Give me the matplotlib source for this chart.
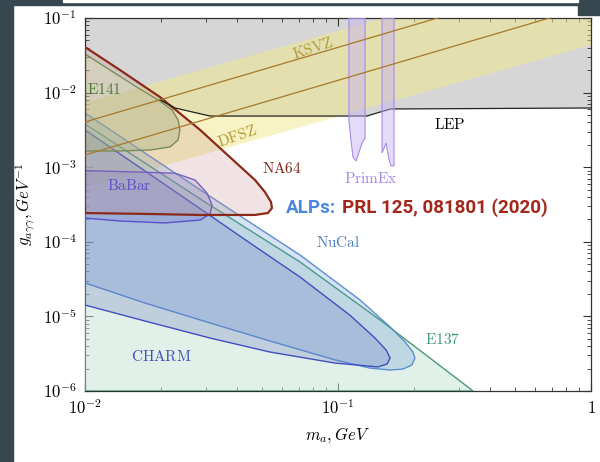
import matplotlib
matplotlib.use("Agg")
import matplotlib.pyplot as plt
import matplotlib.ticker as ticker
from matplotlib.colors import to_rgba
from matplotlib.patches import Rectangle
import numpy as np

plt.rcParams['mathtext.fontset'] = 'cm'

# --- datos (m_a en GeV, g en GeV^-1) ---
lep_m = [0.01, 0.0198, 0.0227, 0.0312, 0.130, 0.161, 1.0]
lep_g = [0.0329, 0.00796, 0.00622, 0.00485, 0.00485, 0.00603, 0.00622]

band_m = [0.01, 1.0]
band_lo = [5.26e-4, 0.0435]
band_hi = [7.26e-3, 0.624]
ksvz_g = [4.04e-3, 0.404]
dfsz_g = [1.46e-3, 0.146]

e141_m = [0.01, 0.01256, 0.01578, 0.01977, 0.02208, 0.02333, 0.02371, 0.02333,
          0.02168, 0.01807, 0.01374, 0.01]
e141_g = [0.0329, 0.0201, 0.01225, 0.00771, 0.00585, 0.00430, 0.00316, 0.00232,
          0.00187, 0.00170, 0.00165, 0.00165]

na64_m = [0.01, 0.01374, 0.01977, 0.02851, 0.03846, 0.04699, 0.05140, 0.05433,
          0.05483, 0.05284, 0.04699, 0.02851, 0.01807, 0.01]
na64_g = [0.0408, 0.0201, 0.00873, 0.00316, 0.00125, 6.73e-4, 4.66e-4, 3.42e-4,
          2.84e-4, 2.43e-4, 2.29e-4, 2.29e-4, 2.36e-4, 2.43e-4]

babar_m = [0.01, 0.01648, 0.02270, 0.02723, 0.03034, 0.03177, 0.03119, 0.02851,
           0.02070, 0.01374, 0.01]
babar_g = [9.0e-4, 8.6e-4, 8.3e-4, 6.73e-4, 4.51e-4, 3.11e-4, 2.36e-4, 1.96e-4,
           1.79e-4, 1.90e-4, 2.08e-4]

nucal_m = [0.01, 0.01726, 0.02979, 0.07079, 0.1222, 0.1607, 0.1841, 0.1977, 0.2014,
           0.1959, 0.1807, 0.1607, 0.1337, 0.0973, 0.0538, 0.0312, 0.01726, 0.01]
nucal_g = [5.33e-3, 1.55e-3, 4.51e-4, 6.65e-5, 1.66e-5, 7.21e-6, 4.54e-6, 3.33e-6,
           2.77e-6, 2.23e-6, 1.97e-6, 1.91e-6, 2.03e-6, 2.61e-6, 4.68e-6, 8.17e-6,
           1.51e-5, 2.81e-5]

charm_m = [0.01, 0.01726, 0.02979, 0.04487, 0.07079, 0.1114, 0.1400, 0.1549, 0.1607,
           0.1563, 0.1439, 0.0973, 0.0538, 0.0312, 0.01726, 0.01]
charm_g = [3.16e-3, 8.90e-4, 2.51e-4, 9.64e-5, 3.37e-5, 1.04e-5, 5.13e-6, 3.55e-6,
           2.77e-6, 2.30e-6, 2.10e-6, 2.37e-6, 3.33e-6, 5.13e-6, 8.67e-6, 1.42e-5]

e137_m = [0.01, 0.02979, 0.07079, 0.1466, 0.342]
e137_g = [3.79e-3, 3.42e-4, 5.36e-5, 8.95e-6, 1.0e-6]

primex1_m = [0.1104, 0.1104, 0.1125, 0.1146, 0.1178, 0.1211, 0.1245, 0.1279, 0.1279]
primex1_g = [0.1, 4.30e-3, 2.32e-3, 1.37e-3, 1.21e-3, 1.60e-3, 2.11e-3, 2.46e-3, 0.1]
primex2_m = [0.1493, 0.1493, 0.1549, 0.1592, 0.1620, 0.1665, 0.1665]
primex2_g = [0.1, 1.55e-3, 2.11e-3, 1.25e-3, 1.04e-3, 1.04e-3, 0.1]

# etiquetas: (texto, m, g, color, rotacion)
etiquetas = [
    ("LEP", 0.277, 3.68e-3, "black", 0),
    ("KSVZ", 0.0796, 0.0396, "#b09a3a", 18),
    ("DFSZ", 0.0399, 2.62e-3, "#b09a3a", 19),
    ("NA64", 0.0601, 9.75e-4, "#7a2518", 0),
    ("BaBar", 0.01493, 5.77e-4, "#5b50c8", 0),
    ("PrimEx", 0.135, 7.16e-4, "#a685ea", 0),
    ("NuCal", 0.1, 9.64e-5, "#4a7fc0", 0),
    ("CHARM", 0.01995, 2.94e-6, "#3e4fb8", 0),
    ("E137", 0.260, 4.83e-6, "#3f9a75", 0),
]

fig = plt.figure(figsize=(6, 4.62), dpi=100)
ax = fig.add_axes([85/600, 1-391/462, 506/600, 373/462])
ax.set_xscale('log')
ax.set_yscale('log')
ax.set_xlim(0.01, 1)
ax.set_ylim(1e-6, 1e-1)


def region(m, g, face, alpha, edge, lw=1.0, z=3):
    ax.fill(m, g, facecolor=to_rgba(face, alpha), edgecolor=edge, linewidth=lw, zorder=z)


# LEP
ax.fill_between(lep_m, lep_g, 0.1, facecolor='#d6d6d6', edgecolor='none', zorder=1)
ax.plot(lep_m[1:], lep_g[1:], color='#222222', lw=0.9, zorder=9)

# banda axion
ax.fill_between(band_m, band_lo, band_hi, facecolor=to_rgba('#f0e98a', 0.5),
                edgecolor='none', zorder=2)

region(e137_m + [0.01], e137_g + [1e-6], '#c5e3d5', 0.5, '#4a9a78', 1.0, 3)
region(nucal_m, nucal_g, '#5a90d0', 0.25, '#5b8fcf', 1.0, 4)
region(charm_m, charm_g, '#6070c0', 0.25, '#3f4fbf', 1.0, 5)
region(babar_m, babar_g, '#7070d0', 0.22, '#5a4fcf', 1.0, 6)
region(e141_m, e141_g, '#9cc080', 0.4, '#5f8a45', 1.0, 7)
region(na64_m, na64_g, '#c89090', 0.25, '#8b2a1a', 1.6, 8)
region(primex1_m, primex1_g, '#c4b0f5', 0.45, '#a98be6', 0.8, 9)
region(primex2_m, primex2_g, '#c4b0f5', 0.45, '#a98be6', 0.8, 9)

ax.plot(band_m, ksvz_g, color='#a8782a', lw=0.9, zorder=10)
ax.plot(band_m, dfsz_g, color='#a8782a', lw=0.9, zorder=10)

for texto, m, g, color, rot in etiquetas:
    ax.text(m, g, r'$\mathrm{%s}$' % texto, color=color, fontsize=11, rotation=rot,
            ha='center', va='center', zorder=12)
ax.text(0.0102, 0.01084, r'$\mathrm{E141}$', color='#4d7a35', fontsize=11,
        ha='left', va='center', zorder=12)


def fmt(v, p):
    e = int(round(np.log10(v)))
    return r'$1$' if e == 0 else r'$10^{%d}$' % e


ax.xaxis.set_major_formatter(ticker.FuncFormatter(fmt))
ax.yaxis.set_major_formatter(ticker.FuncFormatter(fmt))
ax.xaxis.set_minor_formatter(ticker.NullFormatter())
ax.yaxis.set_minor_formatter(ticker.NullFormatter())
ax.tick_params(which='both', direction='in', top=True, right=True, colors='#333333',
               labelcolor='black', labelsize=12)
ax.tick_params(which='major', length=6, width=0.8, pad=6)
ax.tick_params(which='minor', length=3, width=0.6)
for s in ax.spines.values():
    s.set_color('#333333')
    s.set_linewidth(0.9)

ax.set_xlabel(r'$m_a, GeV$', fontsize=12, labelpad=5)
ax.set_ylabel(r'$g_{a\gamma\gamma}, GeV^{-1}$', fontsize=12, labelpad=4)

# texto de referencia: "ALPs:" azul y cita en rojo, uno tras otro
yt = 1 - 208/462
t1 = fig.text(286/600, yt, 'ALPs:', color='#4a86e0', fontweight='bold',
              family='Roboto', fontsize=13.5, va='center')
fig.canvas.draw()
bb = t1.get_window_extent()
fig.text((bb.x1 + 6) / 600, yt, 'PRL 125, 081801 (2020)', color='#a3261a',
         fontweight='bold', family='Roboto', fontsize=13.5, va='center')

# marco oscuro de la captura
fig.patches.append(Rectangle((0, 0), 13/600, 1, transform=fig.transFigure,
                             color='#37474f', zorder=0))
fig.patches.append(Rectangle((0, 1-5/462), 1, 5/462, transform=fig.transFigure,
                             color='#37474f', zorder=0))
fig.patches.append(Rectangle((63/600, 1-1.5/462), 515/600, 1.5/462,
                             transform=fig.transFigure, color='white', zorder=1))
fig.patches.append(Rectangle((578/600, 1-15/462), 22/600, 15/462,
                             transform=fig.transFigure, color='#37474f', zorder=0))

fig.savefig('out.png', dpi=100)
